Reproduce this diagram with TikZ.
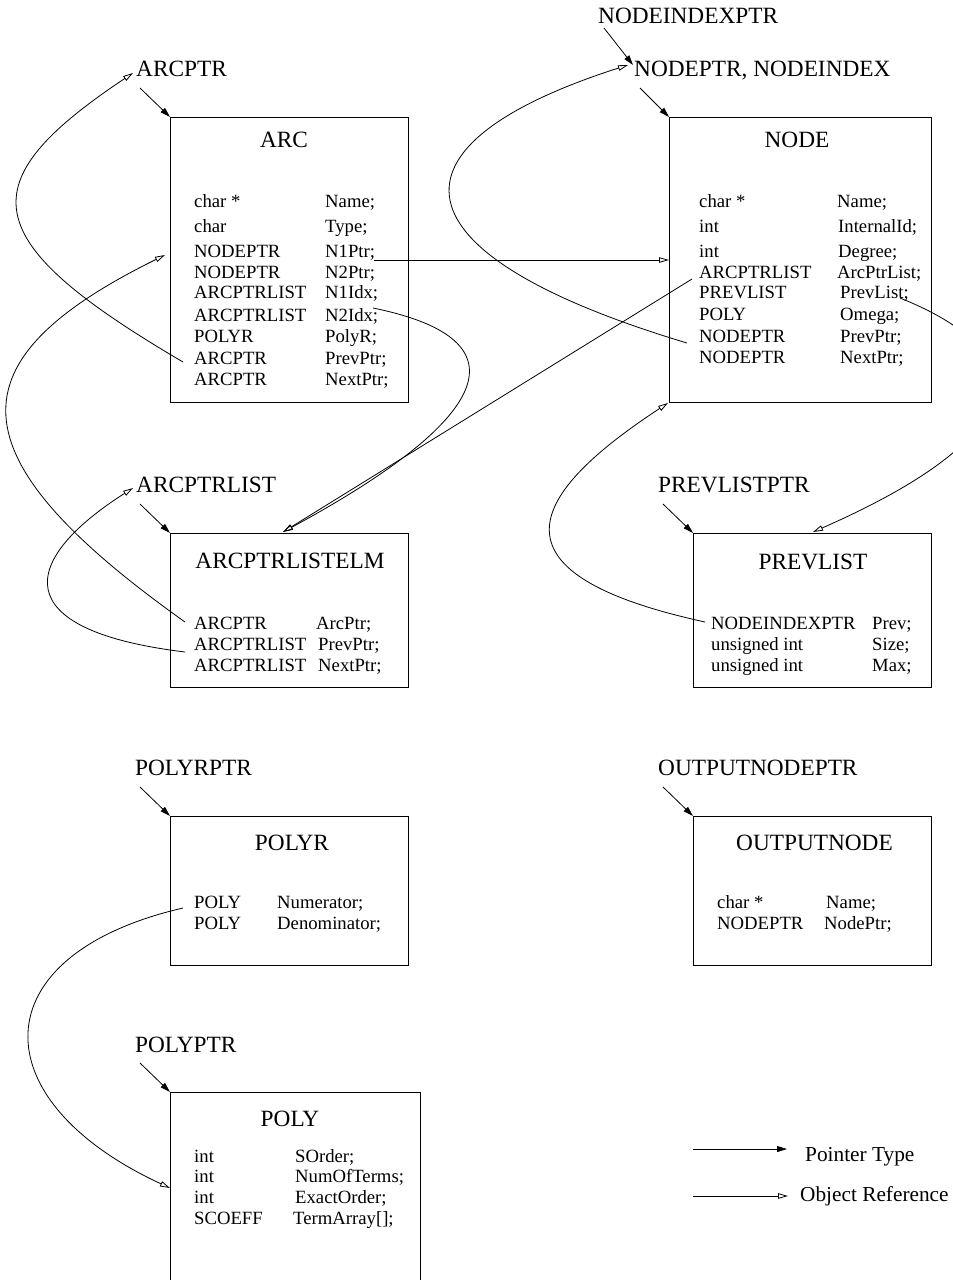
\documentclass[tikz,border=0pt]{standalone}
\usepackage{fontspec}
\setmainfont{Liberation Serif}
\usetikzlibrary{arrows.meta}
\tikzset{
  x=1pt, y=-1pt,
  box/.style={draw, line width=0.9pt, anchor=north west, inner sep=0pt},
  lbl/.style={anchor=base west, inner sep=0pt, font=\fontsize{23.3}{28}\selectfont},
  ttl/.style={anchor=base, inner sep=0pt, font=\fontsize{23.3}{28}\selectfont},
  fld/.style={anchor=base west, inner sep=0pt, font=\fontsize{18.7}{22}\selectfont},
  leg/.style={anchor=base west, inner sep=0pt, font=\fontsize{21.3}{25}\selectfont},
  ptr/.style={line width=0.8pt, -{Triangle[length=10pt,width=6pt]}},
  objref/.style={line width=0.8pt, -{Triangle[open,length=10pt,width=5.5pt]}},
}
\begin{document}
\begin{tikzpicture}
\useasboundingbox (0,0) rectangle (953,1280);
\clip (0,0) rectangle (953,1280);

% ---------- boxes ----------
\node[box, minimum width=238pt, minimum height=285pt] (arc) at (170,117) {};
\node[box, minimum width=262pt, minimum height=285pt] (node) at (669,117) {};
\node[box, minimum width=238pt, minimum height=154pt] (apl) at (170,533) {};
\node[box, minimum width=238pt, minimum height=154pt] (prev) at (693,533) {};
\node[box, minimum width=238pt, minimum height=149pt] (polyr) at (170,816) {};
\node[box, minimum width=238pt, minimum height=149pt] (outn) at (693,816) {};
\node[box, minimum width=250pt, minimum height=230pt] (poly) at (170,1092) {};

% ---------- titles ----------
\node[ttl] (tarc) at (284,147) {ARC};
\node[ttl] (tnode) at (797,147) {NODE};
\node[ttl] (tapl) at (290,568) {ARCPTRLISTELM};
\node[ttl] (tprev) at (813,569) {PREVLIST};
\node[ttl] (tpolyr) at (292,850) {POLYR};
\node[ttl] (toutn) at (814.5,850) {OUTPUTNODE};
\node[ttl] (tpoly) at (290,1126) {POLY};

% ---------- type labels ----------
\node[lbl] (larc) at (136,76) {ARCPTR};
\node[lbl] (lnix) at (598,23) {NODEINDEXPTR};
\node[lbl] (lnode) at (634,76) {NODEPTR, NODEINDEX};
\node[lbl] (lapl) at (136,492) {ARCPTRLIST};
\node[lbl] (lprev) at (658,492) {PREVLISTPTR};
\node[lbl] (lpolyr) at (135,775) {POLYRPTR};
\node[lbl] (loutn) at (658,775) {OUTPUTNODEPTR};
\node[lbl] (lpoly) at (135,1052) {POLYPTR};

% ---------- ARC fields ----------
\node[fld] (a1l) at (194,207) {char *};      \node[fld] (a1r) at (325,207) {Name;};
\node[fld] (a2l) at (194,232) {char};        \node[fld] (a2r) at (325,232) {Type;};
\node[fld] (a3l) at (194,257) {NODEPTR};     \node[fld] (a3r) at (325,257) {N1Ptr;};
\node[fld] (a4l) at (194,278) {NODEPTR};     \node[fld] (a4r) at (325,278) {N2Ptr;};
\node[fld] (a5l) at (194,298) {ARCPTRLIST};  \node[fld] (a5r) at (325,298) {N1Idx;};
\node[fld] (a6l) at (194,321) {ARCPTRLIST};  \node[fld] (a6r) at (325,321) {N2Idx;};
\node[fld] (a7l) at (194,342) {POLYR};       \node[fld] (a7r) at (325,342) {PolyR;};
\node[fld] (a8l) at (194,364) {ARCPTR};      \node[fld] (a8r) at (325,364) {PrevPtr;};
\node[fld] (a9l) at (194,385) {ARCPTR};      \node[fld] (a9r) at (325,385) {NextPtr;};

% ---------- NODE fields ----------
\node[fld] (n1l) at (699,207) {char *};      \node[fld] (n1r) at (837,207) {Name;};
\node[fld] (n2l) at (699,232) {int};         \node[fld] (n2r) at (838,232) {InternalId;};
\node[fld] (n3l) at (699,257) {int};         \node[fld] (n3r) at (838,257) {Degree;};
\node[fld] (n4l) at (699,278) {ARCPTRLIST};  \node[fld] (n4r) at (837,278) {ArcPtrList;};
\node[fld] (n5l) at (699,298) {PREVLIST};    \node[fld] (n5r) at (840,298) {PrevList;};
\node[fld] (n6l) at (699,320) {POLY};        \node[fld] (n6r) at (840,320) {Omega;};
\node[fld] (n7l) at (699,342) {NODEPTR};     \node[fld] (n7r) at (840,342) {PrevPtr;};
\node[fld] (n8l) at (699,363) {NODEPTR};     \node[fld] (n8r) at (840,363) {NextPtr;};

% ---------- ARCPTRLISTELM fields ----------
\node[fld] (e1l) at (194,629) {ARCPTR};      \node[fld] (e1r) at (316,629) {ArcPtr;};
\node[fld] (e2l) at (194,650) {ARCPTRLIST};  \node[fld] (e2r) at (318,650) {PrevPtr;};
\node[fld] (e3l) at (194,671) {ARCPTRLIST};  \node[fld] (e3r) at (318,671) {NextPtr;};

% ---------- PREVLIST fields ----------
\node[fld] (p1l) at (711,629) {NODEINDEXPTR}; \node[fld] (p1r) at (872,629) {Prev;};
\node[fld] (p2l) at (711,650) {unsigned int}; \node[fld] (p2r) at (872,650) {Size;};
\node[fld] (p3l) at (711,671) {unsigned int}; \node[fld] (p3r) at (872,671) {Max;};

% ---------- POLYR fields ----------
\node[fld] (r1l) at (194,908) {POLY};        \node[fld] (r1r) at (277,908) {Numerator;};
\node[fld] (r2l) at (194,929) {POLY};        \node[fld] (r2r) at (277,929) {Denominator;};

% ---------- OUTPUTNODE fields ----------
\node[fld] (o1l) at (717,908) {char *};      \node[fld] (o1r) at (826,908) {Name;};
\node[fld] (o2l) at (717,929) {NODEPTR};     \node[fld] (o2r) at (824,929) {NodePtr;};

% ---------- POLY fields ----------
\node[fld] (y1l) at (194,1162) {int};        \node[fld] (y1r) at (295,1162) {SOrder;};
\node[fld] (y2l) at (194,1182) {int};        \node[fld] (y2r) at (295,1182) {NumOfTerms;};
\node[fld] (y3l) at (194,1203) {int};        \node[fld] (y3r) at (295,1203) {ExactOrder;};
\node[fld] (y4l) at (194,1224) {SCOEFF};     \node[fld] (y4r) at (293,1224) {TermArray[];};

% ---------- connector end points ----------
\coordinate (larcS) at (140,88);
\coordinate (lnixS) at (604,28);
\coordinate (lnodeE) at (633,65);
\coordinate (lnodeS) at (640,88);
\coordinate (laplS) at (140,504);
\coordinate (lprevS) at (663,504);
\coordinate (lpolyrS) at (140,787);
\coordinate (loutnS) at (663,787);
\coordinate (lpolyS) at (140,1063);

\coordinate (larcIn) at (133,73);
\coordinate (lnodeIn) at (628,65);
\coordinate (laplIn) at (133,488);
\coordinate (arcIn) at (165,255);
\coordinate (nodeIn) at (669,260);
\coordinate (aplIn) at (283,532);
\coordinate (prevIn) at (813,532);
\coordinate (nodeBl) at (668,403);
\coordinate (polyIn) at (170,1188);

\coordinate (a3S) at (374,260);
\coordinate (a6S) at (373,308);
\coordinate (a8S) at (183,362);
\coordinate (n4S) at (692,279);
\coordinate (n5S) at (900,298);
\coordinate (n7S) at (687,343);
\coordinate (e1S) at (185,622);
\coordinate (e2S) at (185,652);
\coordinate (p1S) at (705,622);
\coordinate (r1S) at (183,908);

% ---------- pointer-type arrows ----------
\draw[ptr] (larcS) -- (arc.north west);
\draw[ptr] (lnixS) -- (lnodeE);
\draw[ptr] (lnodeS) -- (node.north west);
\draw[ptr] (laplS) -- (apl.north west);
\draw[ptr] (lprevS) -- (prev.north west);
\draw[ptr] (lpolyrS) -- (polyr.north west);
\draw[ptr] (loutnS) -- (outn.north west);
\draw[ptr] (lpolyS) -- (poly.north west);

% ---------- object references ----------
\draw[objref] (a8S) .. controls (-25,240) and (-32,183) .. (larcIn);
\draw[objref] (e1S) .. controls (-50,455) and (-48,360) .. (arcIn);
\draw[objref] (a3S) -- (nodeIn);
\draw[objref] (a6S) .. controls (530,340) and (490,420) .. (aplIn);
\draw[objref] (n4S) -- (aplIn);
\draw[objref] (n7S) .. controls (387,253) and (378,145) .. (lnodeIn);
\draw[objref] (n5S) .. controls (1030,350) and (1045,430) .. (prevIn);
\draw[objref] (p1S) .. controls (490,575) and (520,500) .. (nodeBl);
\draw[objref] (e2S) .. controls (5,630) and (20,560) .. (laplIn);
\draw[objref] (r1S) .. controls (-20,955) and (-20,1100) .. (polyIn);

% ---------- legend ----------
\coordinate (lg1a) at (693,1149);
\coordinate (lg1b) at (787,1149);
\coordinate (lg2a) at (693,1196);
\coordinate (lg2b) at (788,1196);
\draw[ptr] (lg1a) -- (lg1b);
\draw[objref] (lg2a) -- (lg2b);
\node[leg] (legptr) at (805,1161) {Pointer Type};
\node[leg] (legref) at (800,1201) {Object Reference};
\end{tikzpicture}
\end{document}
